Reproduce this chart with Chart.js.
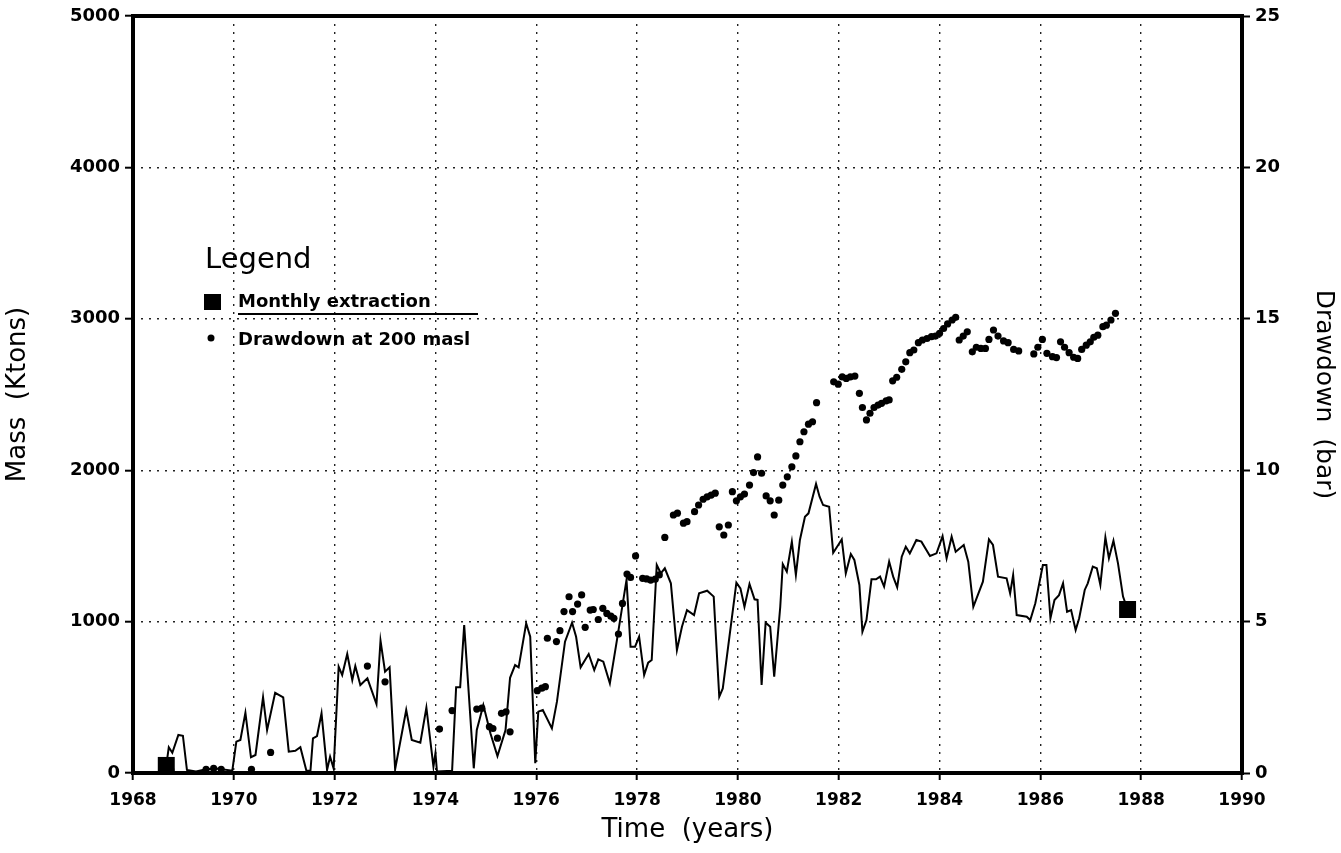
<!DOCTYPE html>
<html>
<head>
<meta charset="utf-8">
<title>Mass extraction and drawdown</title>
<script src="https://cdn.jsdelivr.net/npm/chart.js@4.4.1/dist/chart.umd.min.js"></script>
<style>
    html, body { margin: 0; padding: 0; background: #fff; }
    #chart { display: block; }
</style>
</head>
<body>
<canvas id="chart" width="1341" height="853"></canvas>
<script>
// --- 1. DATA ---
const yearTicks = [1968, 1970, 1972, 1974, 1976, 1978, 1980, 1982, 1984, 1986, 1988, 1990];
const massTicks = [0, 1000, 2000, 3000, 4000, 5000];
const drawdownTicks = [0, 5, 10, 15, 20, 25];

// monthly extraction (Ktons), line vertices
const extractionYears = [
    1968.66, 1968.71, 1968.78, 1968.90, 1968.99, 1969.07, 1969.25, 1969.45, 1969.65, 1969.97,
    1970.05, 1970.13, 1970.23, 1970.34, 1970.43, 1970.58, 1970.66, 1970.82, 1970.98, 1971.09,
    1971.22, 1971.32, 1971.44, 1971.52, 1971.57, 1971.65, 1971.74, 1971.85, 1971.91, 1971.98,
    1972.08, 1972.15, 1972.25, 1972.35, 1972.41, 1972.51, 1972.65, 1972.83, 1972.91, 1973.00,
    1973.09, 1973.20, 1973.42, 1973.53, 1973.70, 1973.82, 1973.96, 1974.00, 1974.03, 1974.33,
    1974.41, 1974.49, 1974.57, 1974.76, 1974.82, 1974.95, 1975.09, 1975.23, 1975.39, 1975.48,
    1975.58, 1975.65, 1975.80, 1975.88, 1975.98, 1976.04, 1976.13, 1976.31, 1976.41, 1976.57,
    1976.71, 1976.79, 1976.88, 1977.04, 1977.15, 1977.23, 1977.33, 1977.46, 1977.60, 1977.79,
    1977.87, 1977.96, 1978.04, 1978.14, 1978.22, 1978.29, 1978.39, 1978.47, 1978.55, 1978.67,
    1978.79, 1978.89, 1978.99, 1979.13, 1979.23, 1979.39, 1979.52, 1979.63, 1979.70, 1979.97,
    1980.05, 1980.13, 1980.23, 1980.33, 1980.39, 1980.47, 1980.55, 1980.64, 1980.72, 1980.84,
    1980.89, 1980.97, 1981.07, 1981.15, 1981.23, 1981.33, 1981.40, 1981.55, 1981.62, 1981.69,
    1981.81, 1981.89, 1981.99, 1982.06, 1982.14, 1982.24, 1982.31, 1982.41, 1982.47, 1982.55,
    1982.65, 1982.74, 1982.82, 1982.90, 1983.00, 1983.08, 1983.16, 1983.25, 1983.33, 1983.41,
    1983.54, 1983.64, 1983.81, 1983.94, 1984.06, 1984.14, 1984.24, 1984.32, 1984.48, 1984.57,
    1984.67, 1984.86, 1984.98, 1985.06, 1985.16, 1985.33, 1985.40, 1985.46, 1985.53, 1985.73,
    1985.80, 1985.90, 1986.05, 1986.12, 1986.20, 1986.28, 1986.37, 1986.45, 1986.53, 1986.61,
    1986.70, 1986.77, 1986.88, 1986.94, 1987.04, 1987.12, 1987.19, 1987.29, 1987.36, 1987.45,
    1987.54, 1987.64, 1987.73
];
const extractionKtons = [
    50, 170, 134, 251, 246, 20, 10, 25, 30, 15,
    207, 218, 398, 104, 119, 500, 284, 530, 500, 141,
    147, 170, 15, 15, 229, 244, 394, 20, 108, 30,
    702, 647, 786, 614, 707, 581, 625, 456, 874, 669,
    698, 25, 416, 218, 200, 432, 42, 132, 10, 15,
    566, 566, 977, 31, 284, 449, 262, 112, 284, 629,
    713, 698, 989, 900, 64, 405, 416, 295, 471, 867,
    993, 900, 698, 786, 680, 751, 735, 592, 878, 1275,
    834, 834, 900, 647, 729, 746, 1374, 1319, 1352, 1253,
    812, 966, 1076, 1043, 1187, 1204, 1165, 504, 559, 1257,
    1220, 1098, 1248, 1147, 1143, 581, 993, 966, 636, 1098,
    1380, 1330, 1528, 1308, 1539, 1693, 1715, 1909, 1825, 1770,
    1759, 1455, 1506, 1543, 1319, 1446, 1407, 1242, 933, 1010,
    1279, 1279, 1297, 1231, 1396, 1297, 1227, 1429, 1495, 1451,
    1539, 1528, 1433, 1451, 1565, 1418, 1561, 1462, 1506, 1396,
    1098, 1264, 1543, 1506, 1297, 1286, 1187, 1308, 1043, 1032,
    1010, 1121, 1374, 1374, 1022, 1143, 1175, 1253, 1065, 1076,
    944, 1022, 1209, 1253, 1363, 1352, 1242, 1557, 1418, 1534,
    1385, 1165, 1080
];

// drawdown at 200 masl (bar)
const drawdownYears = [
    1968.75, 1969.45, 1969.60, 1969.75, 1970.35, 1970.73, 1972.65, 1973.00, 1974.08, 1974.33,
    1974.82, 1974.92, 1975.07, 1975.14, 1975.23, 1975.31, 1975.40, 1975.48, 1976.02, 1976.11,
    1976.18, 1976.22, 1976.40, 1976.47, 1976.55, 1976.65, 1976.72, 1976.82, 1976.90, 1976.97,
    1977.07, 1977.13, 1977.23, 1977.32, 1977.40, 1977.48, 1977.54, 1977.63, 1977.71, 1977.80,
    1977.87, 1977.97, 1978.11, 1978.19, 1978.27, 1978.36, 1978.44, 1978.55, 1978.72, 1978.80,
    1978.92, 1978.99, 1979.14, 1979.22, 1979.31, 1979.39, 1979.47, 1979.55, 1979.63, 1979.72,
    1979.81, 1979.89, 1979.97, 1980.05, 1980.13, 1980.23, 1980.31, 1980.39, 1980.47, 1980.56,
    1980.64, 1980.72, 1980.81, 1980.89, 1980.98, 1981.07, 1981.15, 1981.23, 1981.31, 1981.40,
    1981.48, 1981.56, 1981.90, 1981.99, 1982.07, 1982.15, 1982.23, 1982.32, 1982.41, 1982.47,
    1982.55, 1982.62, 1982.70, 1982.78, 1982.85, 1982.94, 1983.00, 1983.07, 1983.15, 1983.25,
    1983.33, 1983.41, 1983.49, 1983.58, 1983.66, 1983.75, 1983.84, 1983.92, 1984.00, 1984.08,
    1984.16, 1984.25, 1984.32, 1984.39, 1984.47, 1984.55, 1984.65, 1984.73, 1984.82, 1984.91,
    1984.98, 1985.07, 1985.16, 1985.27, 1985.36, 1985.47, 1985.57, 1985.87, 1985.95, 1986.04,
    1986.13, 1986.24, 1986.32, 1986.40, 1986.48, 1986.57, 1986.66, 1986.74, 1986.82, 1986.91,
    1986.99, 1987.06, 1987.14, 1987.24, 1987.31, 1987.40, 1987.49
];
const drawdownBar = [
    0.10, 0.12, 0.15, 0.12, 0.12, 0.68, 3.53, 3.01, 1.45, 2.06,
    2.11, 2.14, 1.53, 1.47, 1.15, 1.97, 2.02, 1.36, 2.72, 2.80,
    2.85, 4.45, 4.34, 4.70, 5.33, 5.82, 5.33, 5.58, 5.88, 4.81,
    5.38, 5.40, 5.07, 5.44, 5.27, 5.18, 5.11, 4.59, 5.60, 6.57,
    6.46, 7.17, 6.43, 6.41, 6.37, 6.40, 6.54, 7.78, 8.52, 8.58,
    8.25, 8.30, 8.63, 8.85, 9.04, 9.12, 9.18, 9.24, 8.13, 7.86,
    8.19, 9.29, 8.99, 9.12, 9.21, 9.51, 9.92, 10.44, 9.90, 9.15,
    8.99, 8.52, 9.01, 9.51, 9.78, 10.11, 10.47, 10.94, 11.27, 11.52,
    11.60, 12.23, 12.92, 12.84, 13.08, 13.03, 13.08, 13.11, 12.54, 12.07,
    11.66, 11.88, 12.07, 12.15, 12.21, 12.29, 12.32, 12.95, 13.07, 13.33,
    13.58, 13.88, 13.97, 14.21, 14.30, 14.35, 14.41, 14.43, 14.52, 14.68,
    14.83, 14.96, 15.05, 14.30, 14.43, 14.57, 13.91, 14.06, 14.02, 14.02,
    14.32, 14.63, 14.43, 14.27, 14.21, 13.99, 13.94, 13.84, 14.06, 14.32,
    13.86, 13.75, 13.72, 14.24, 14.06, 13.88, 13.73, 13.69, 13.99, 14.13,
    14.24, 14.39, 14.46, 14.74, 14.79, 14.96, 15.18
];

const extractionPoints = extractionYears.map((x, i) => ({ x: x, y: extractionKtons[i] }));
const drawdownPoints = drawdownYears.map((x, i) => ({ x: x, y: drawdownBar[i] }));

// --- 2. STYLE HELPERS ---
const FONT = "'DejaVu Sans', sans-serif";
const dotted = [2, 6];

// frame around the plot + hand placed legend box
const frameAndLegend = {
    id: 'frameAndLegend',
    afterDraw(chart) {
        const { ctx, chartArea: a } = chart;
        ctx.save();
        ctx.strokeStyle = '#000';
        ctx.lineWidth = 4;
        ctx.strokeRect(a.left, a.top, a.right - a.left, a.bottom - a.top);

        ctx.fillStyle = '#000';
        ctx.textBaseline = 'alphabetic';
        ctx.textAlign = 'left';
        ctx.font = `29px ${FONT}`;
        ctx.fillText('Legend', 205, 268);

        ctx.fillRect(204, 294, 17, 16);
        ctx.font = `bold 18px ${FONT}`;
        ctx.fillText('Monthly extraction', 238, 307);
        ctx.lineWidth = 2;
        ctx.beginPath();
        ctx.moveTo(238, 314);
        ctx.lineTo(478, 314);
        ctx.stroke();

        ctx.beginPath();
        ctx.arc(211, 338, 3.5, 0, Math.PI * 2);
        ctx.fill();
        ctx.fillText('Drawdown at 200 masl', 238, 345);
        ctx.restore();
    }
};

// --- 3. CHART ---
const lastIdx = extractionPoints.length - 1;

new Chart(document.getElementById('chart').getContext('2d'), {
    type: 'line',
    data: {
        datasets: [
            {
                label: 'Monthly extraction',
                data: extractionPoints,
                yAxisID: 'y',
                borderColor: '#000',
                backgroundColor: '#000',
                borderWidth: 2,
                tension: 0,
                pointStyle: 'rect',
                pointRadius: ctx => (ctx.dataIndex === 0 || ctx.dataIndex === lastIdx) ? 12 : 0,
                pointBorderWidth: 0
            },
            {
                label: 'Drawdown at 200 masl',
                data: drawdownPoints,
                yAxisID: 'y1',
                showLine: false,
                backgroundColor: '#000',
                borderColor: '#000',
                pointStyle: 'circle',
                pointRadius: 3.6,
                pointBorderWidth: 0
            }
        ]
    },
    options: {
        responsive: false,
        animation: false,
        devicePixelRatio: 1,
        layout: { padding: { top: 16, left: 0, right: 0, bottom: 0 } },
        plugins: {
            legend: { display: false },
            tooltip: { enabled: false }
        },
        scales: {
            x: {
                type: 'linear',
                min: 1968,
                max: 1990,
                afterFit: s => { s.height = 80; },
                afterBuildTicks: s => { s.ticks = yearTicks.map(v => ({ value: v })); },
                ticks: {
                    color: '#000',
                    padding: 10,
                    maxRotation: 0,
                    font: { family: FONT, size: 17, weight: 'bold' },
                    callback: v => String(v)
                },
                grid: {
                    color: '#222',
                    lineWidth: 1.4,
                    borderDash: dotted,
                    tickBorderDash: [],
                    tickColor: '#000',
                    tickWidth: 2,
                    tickLength: 7
                },
                border: { display: false, dash: dotted },
                title: {
                    display: true,
                    text: 'Time  (years)',
                    color: '#000',
                    font: { family: FONT, size: 26 },
                    padding: { top: 0, bottom: 7 }
                }
            },
            y: {
                position: 'left',
                min: 0,
                max: 5000,
                afterFit: s => { s.width = 133; },
                afterBuildTicks: s => { s.ticks = massTicks.map(v => ({ value: v })); },
                ticks: {
                    color: '#000',
                    padding: 5,
                    font: { family: FONT, size: 18, weight: 'bold' },
                    callback: v => String(v)
                },
                grid: {
                    color: '#222',
                    lineWidth: 1.4,
                    borderDash: dotted,
                    tickBorderDash: [],
                    tickColor: '#000',
                    tickWidth: 2,
                    tickLength: 8
                },
                border: { display: false, dash: dotted },
                title: {
                    display: true,
                    text: 'Mass  (Ktons)',
                    color: '#000',
                    font: { family: FONT, size: 26 },
                    padding: { top: 3, bottom: 0 }
                }
            },
            y1: {
                position: 'right',
                min: 0,
                max: 25,
                afterFit: s => { s.width = 99; },
                afterBuildTicks: s => { s.ticks = drawdownTicks.map(v => ({ value: v })); },
                ticks: {
                    color: '#000',
                    padding: 5,
                    font: { family: FONT, size: 18, weight: 'bold' },
                    callback: v => String(v)
                },
                grid: {
                    drawOnChartArea: false,
                    tickBorderDash: [],
                    tickColor: '#000',
                    tickWidth: 2,
                    tickLength: 8
                },
                border: { display: false },
                title: {
                    display: true,
                    text: 'Drawdown  (bar)',
                    color: '#000',
                    font: { family: FONT, size: 25 },
                    padding: { top: 3, bottom: 0 }
                }
            }
        }
    },
    plugins: [frameAndLegend]
});
</script>
</body>
</html>
